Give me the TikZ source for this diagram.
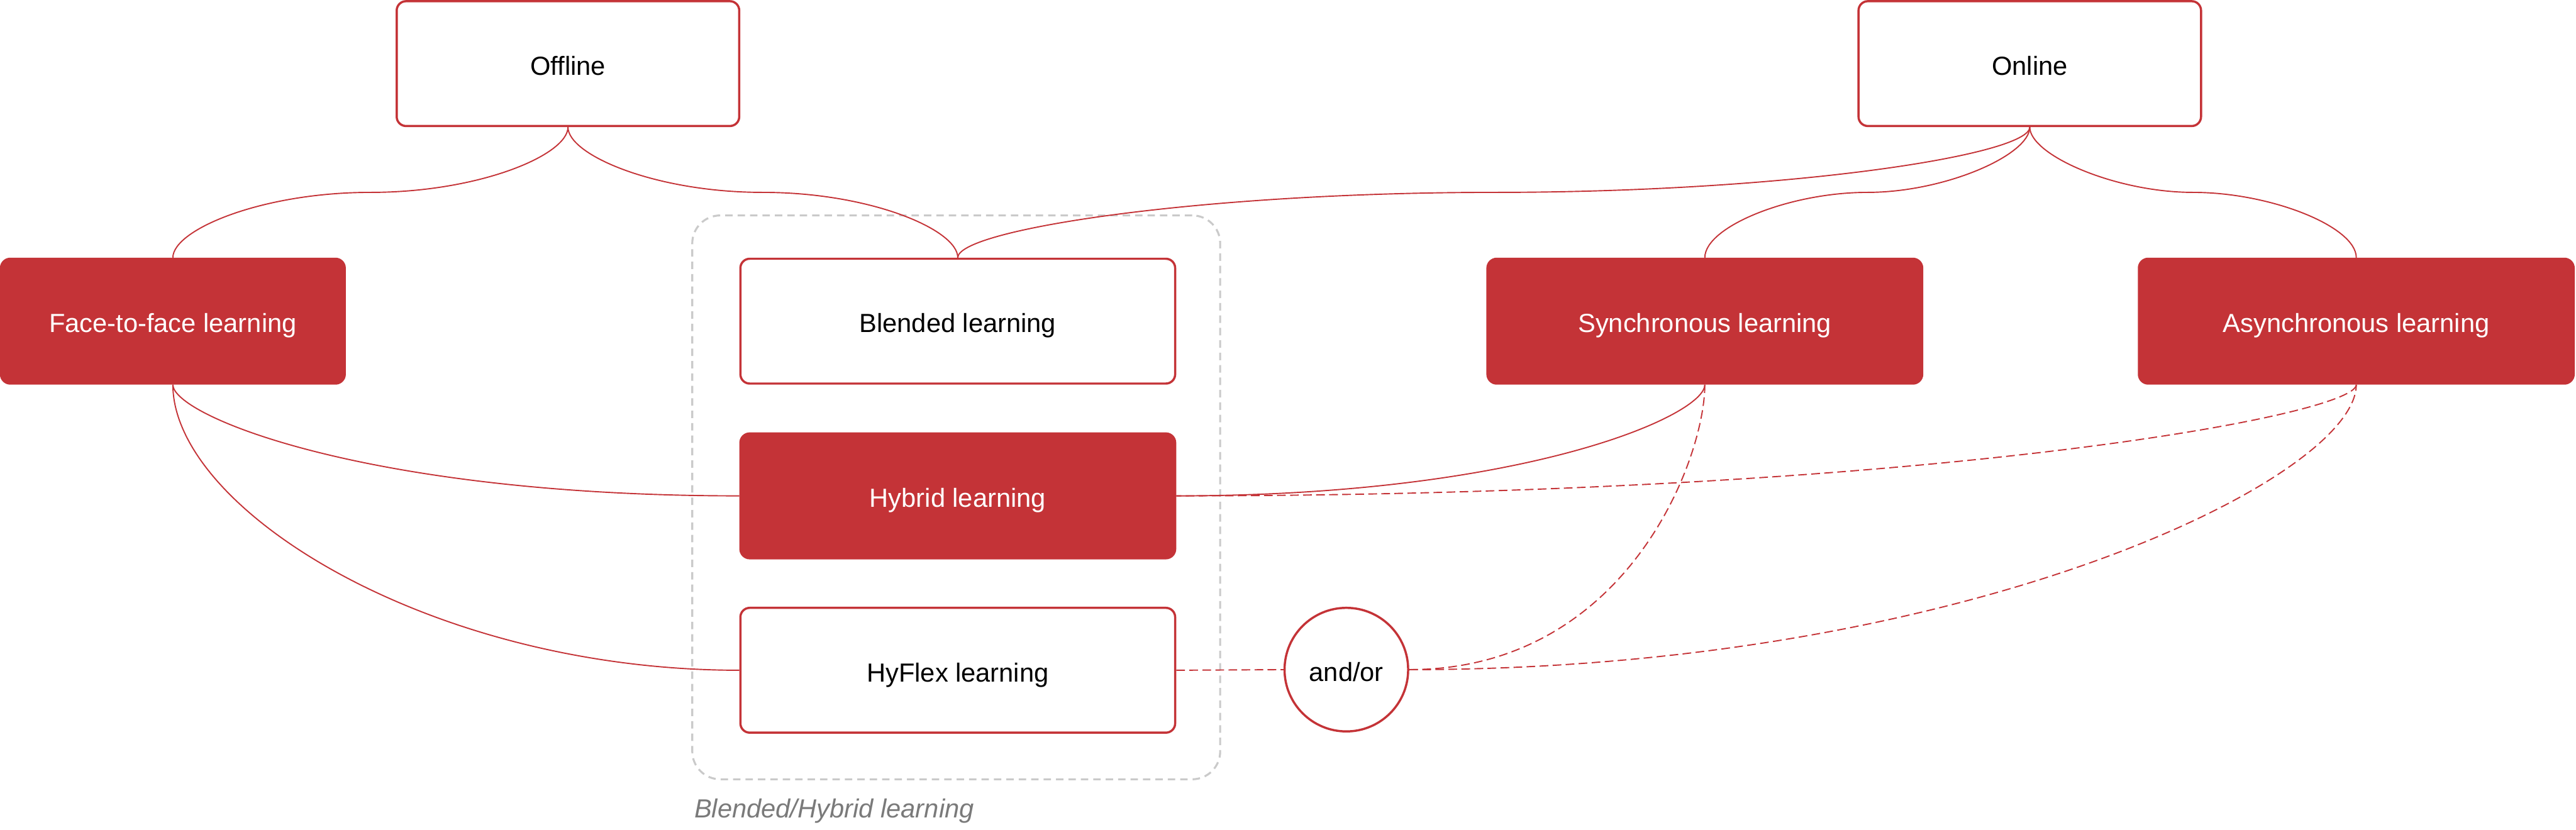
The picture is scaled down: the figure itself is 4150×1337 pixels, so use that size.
\documentclass[tikz,border=0pt]{standalone}
\usepackage{fontspec}
\setmainfont{Liberation Sans}
\usetikzlibrary{calc}
\definecolor{brand}{HTML}{C43337}
\definecolor{grp}{HTML}{CACACA}
\definecolor{lbl}{HTML}{7A7A7A}
\begin{document}
\begin{tikzpicture}[x=0.01cm,y=-0.01cm,
  txt/.style={font=\fontsize{12pt}{14pt}\selectfont},
  ctr/.style={txt,text height=10.5pt,text depth=0pt},
  box/.style={ctr,draw=brand,line width=1pt,rounded corners=0.15cm,minimum height=2.01cm,inner sep=0pt},
  wbox/.style={box,fill=white,text=black},
  rbox/.style={box,fill=brand,text=white},
  conn/.style={draw=brand,line width=0.55pt},
  dconn/.style={conn,dash pattern=on 0.14cm off 0.07cm},
  grpbox/.style={draw=grp,line width=0.9pt,dash pattern=on 0.12cm off 0.08cm,rounded corners=0.45cm,inner sep=0pt}
]
\useasboundingbox (0,0) rectangle (4150,1337);

% group frame
\node[grpbox,minimum width=8.5cm,minimum height=9.08cm] (grp) at (1540.5,801.4) {};
\node[txt,anchor=base west,text=lbl,font=\fontsize{12pt}{14pt}\selectfont\itshape,inner sep=0pt] (grplbl) at (1118,1318) {Blended/Hybrid learning};

% nodes
\node[wbox,minimum width=5.515cm] (off) at (915,102.5) {Offline};
\node[wbox,minimum width=5.515cm] (on) at (3270,102.5) {Online};
\node[rbox,minimum width=5.535cm] (f2f) at (278.5,517.5) {Face-to-face learning};
\node[wbox,minimum width=7.0cm] (blend) at (1543,517.5) {Blended learning};
\node[rbox,minimum width=7.0cm] (hyb) at (1543,799) {Hybrid learning};
\node[wbox,minimum width=7.0cm] (hyf) at (1543,1080) {HyFlex learning};
\node[rbox,minimum width=7.0cm] (sync) at (2746.5,517.5) {Synchronous learning};
\node[rbox,minimum width=7.0cm] (async) at (3796,517.5) {Asynchronous learning};
\node[ctr,circle,draw=brand,line width=1pt,fill=white,minimum size=1.99cm,inner sep=0pt] (ao) at (2169,1079) {and/or};

% top connectors
\draw[conn] (off.south) .. controls +(0,45) and +(175,0) .. ($(off.south)!.5!(f2f.north)$)
  .. controls +(-175,0) and +(0,-45) .. (f2f.north);
\draw[conn] (off.south) .. controls +(0,45) and +(-173,0) .. ($(off.south)!.5!(blend.north)$)
  .. controls +(173,0) and +(0,-45) .. (blend.north);
\draw[conn] (on.south) .. controls +(0,45) and +(475,0) .. ($(on.south)!.5!(blend.north)$)
  .. controls +(-475,0) and +(0,-45) .. (blend.north);
\draw[conn] (on.south) .. controls +(0,45) and +(125,0) .. ($(on.south)!.5!(sync.north)$)
  .. controls +(-125,0) and +(0,-50) .. (sync.north);
\draw[conn] (on.south) .. controls +(0,45) and +(-125,0) .. ($(on.south)!.5!(async.north)$)
  .. controls +(125,0) and +(0,-50) .. (async.north);

% lower connectors
\draw[conn] (f2f.south) .. controls +(0,50) and +(-600,0) .. (hyb.west);
\draw[conn] (f2f.south) .. controls +(0,200) and +(-500,0) .. (hyf.west);
\draw[conn] (sync.south) .. controls +(0,50) and +(560,0) .. (hyb.east);
\draw[dconn] (async.south) .. controls +(0,50) and +(1200,0) .. (hyb.east);
\draw[dconn] (hyf.east) -- (ao.west);
\draw[dconn] (ao.east) .. controls +(350,0) and +(0,120) .. (sync.south);
\draw[dconn] (ao.east) .. controls +(900,0) and +(0,150) .. (async.south);
\end{tikzpicture}
\end{document}
